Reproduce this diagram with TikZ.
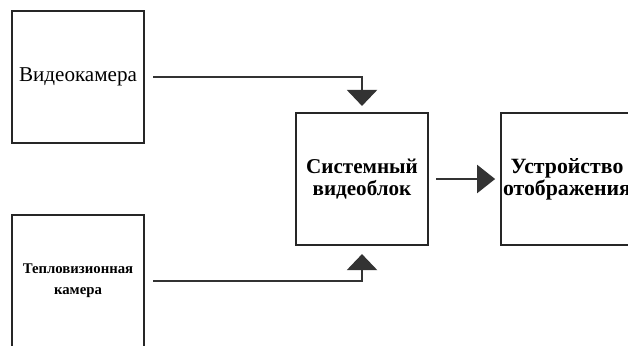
\documentclass[tikz,border=0pt]{standalone}
\usepackage{fontspec}
\setmainfont{Liberation Serif}
\usetikzlibrary{arrows.meta}

\tikzset{
	block/.style={draw=black!85, line width=1.5pt, minimum width=3.3cm, minimum height=3.3cm, align=center, inner sep=1pt},
	link/.style={draw=black!80, line width=1.6pt},
	bighead/.style={-{Triangle[width=0.75cm,length=0.4cm]}}
}

\begin{document}
	\begin{tikzpicture}[x=0.025cm,y=-0.025cm]
		% Fix the frame.
		\clip (0,0) rectangle (628,345);
		\fill[white] (0,0) rectangle (628,345);
		
		% Draw the blocks.
		\node[block, font=\fontsize{15}{18}\selectfont] (camera) at (78,77) {Видеокамера};
		\node[block, font=\bfseries\fontsize{10.5}{15}\selectfont] (thermal) at (78,281) {Тепловизионная\\камера};
		\node[block, font=\bfseries\fontsize{15}{15.6}\selectfont] (system) at (362,179) {Системный\\видеоблок};
		\node[block, font=\bfseries\fontsize{15.5}{15.6}\selectfont] (display) at (567,179) {Устройство\\отображения};
		
		% Connect the cameras and the video block.
		\draw[link, bighead, shorten <=0.2cm, shorten >=0.15cm] (camera) -| (system);
		\draw[link, bighead, shorten <=0.2cm, shorten >=0.2cm] (thermal) -| (system);
		
		% Connect the video block and the display.
		\draw[link, -{Triangle[width=0.7cm,length=0.45cm]}, shorten <=0.18cm, shorten >=0.12cm] (system) -- (display);
	\end{tikzpicture}
\end{document}
